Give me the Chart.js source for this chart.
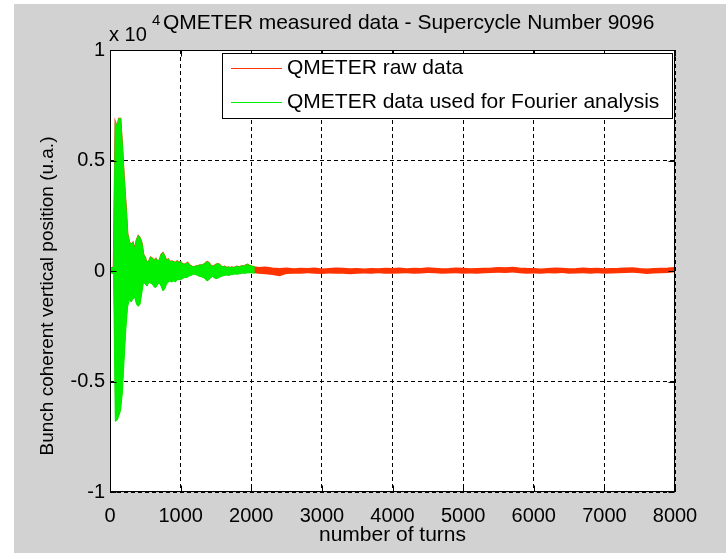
<!DOCTYPE html>
<html>
<head>
<meta charset="utf-8">
<title>QMETER measured data</title>
<script src="https://cdn.jsdelivr.net/npm/chart.js@4.4.0/dist/chart.umd.min.js"></script>
<style>
  html, body { margin: 0; padding: 0; background: #fff; }
  #wrap { width: 726px; height: 553px; }
</style>
</head>
<body>
<div id="wrap"><canvas id="qmeterChart" width="726" height="553"></canvas></div>
<script>
// Envelope of the bunch position signal (units of 1e4), upper and lower edge per sample.
// Part used for the Fourier analysis: turns 0..2050, one sample every 25 turns.
const fitStep = 25;
const fitHi = [
  0.015, 0.014, 0.018, 0.675, 0.65, 0.69, 0.69, 0.565, 0.42, 0.30,
  0.167, 0.13, 0.12, 0.13, 0.10, 0.14, 0.16, 0.15, 0.128, 0.075,
  0.06, 0.036, 0.045, 0.063, 0.057, 0.048, 0.057, 0.045, 0.05, 0.075,
  0.083, 0.068, 0.048, 0.054, 0.042, 0.045, 0.042, 0.038, 0.045, 0.039,
  0.042, 0.033, 0.03, 0.033, 0.038, 0.027, 0.023, 0.018, 0.02, 0.023,
  0.024, 0.027, 0.026, 0.03, 0.036, 0.042, 0.038, 0.027, 0.021, 0.024,
  0.03, 0.033, 0.03, 0.021, 0.018, 0.021, 0.015, 0.018, 0.015, 0.018,
  0.015, 0.018, 0.021, 0.018, 0.021, 0.024, 0.021, 0.027, 0.03, 0.024,
  0.023, 0.02, 0.018
];
const fitLo = [
  -0.008, -0.01, -0.012, -0.68, -0.675, -0.655, -0.63, -0.55, -0.40, -0.26,
  -0.16, -0.13, -0.14, -0.125, -0.12, -0.15, -0.16, -0.15, -0.10, -0.05,
  -0.06, -0.068, -0.05, -0.055, -0.06, -0.072, -0.075, -0.06, -0.055, -0.07,
  -0.09, -0.08, -0.06, -0.05, -0.045, -0.05, -0.045, -0.05, -0.04, -0.038,
  -0.04, -0.035, -0.03, -0.03, -0.028, -0.022, -0.02, -0.015, -0.015, -0.018,
  -0.022, -0.025, -0.027, -0.03, -0.036, -0.045, -0.04, -0.03, -0.025, -0.03,
  -0.035, -0.033, -0.028, -0.025, -0.022, -0.02, -0.018, -0.02, -0.018, -0.015,
  -0.015, -0.014, -0.015, -0.013, -0.012, -0.01, -0.01, -0.01, -0.008, -0.008,
  -0.008, -0.009, -0.01
];

// Rest of the raw acquisition: turns 2100..8000, one sample every 100 turns.
const tailStart = 2100;
const tailStep = 100;
const tailHi = [
  0.015, 0.017, 0.012, 0.01, 0.012, 0.009, 0.011, 0.01, 0.012, 0.008,
  0.01, 0.012, 0.011, 0.009, 0.01, 0.008, 0.01, 0.009, 0.011, 0.01,
  0.012, 0.009, 0.011, 0.01, 0.013, 0.011, 0.009, 0.01, 0.012, 0.011,
  0.009, 0.01, 0.011, 0.012, 0.015, 0.014, 0.016, 0.013, 0.011, 0.01,
  0.008, 0.01, 0.012, 0.011, 0.009, 0.01, 0.012, 0.01, 0.011, 0.009,
  0.01, 0.011, 0.013, 0.014, 0.01, 0.008, 0.01, 0.011, 0.012, 0.015
];
const tailLo = [
  -0.012, -0.015, -0.018, -0.024, -0.014, -0.012, -0.013, -0.01, -0.012, -0.014,
  -0.011, -0.012, -0.013, -0.015, -0.012, -0.011, -0.012, -0.01, -0.012, -0.013,
  -0.011, -0.01, -0.012, -0.011, -0.009, -0.01, -0.012, -0.011, -0.01, -0.013,
  -0.011, -0.012, -0.01, -0.009, -0.008, -0.009, -0.007, -0.01, -0.012, -0.011,
  -0.012, -0.01, -0.011, -0.009, -0.012, -0.011, -0.01, -0.012, -0.01, -0.013,
  -0.011, -0.01, -0.009, -0.008, -0.01, -0.014, -0.011, -0.01, -0.009, -0.006
];

const xTicks = [0, 1000, 2000, 3000, 4000, 5000, 6000, 7000, 8000];
const yTicks = [-1, -0.5, 0, 0.5, 1];

const seriesNames = ['QMETER raw data', 'QMETER data used for Fourier analysis'];
const yTitle = 'Bunch coherent vertical position (u.a.)';
const rawColor = '#ff3300';
const fitColor = '#00f000';
const FONT = "'Liberation Sans', Arial, Helvetica, sans-serif";

const fitTurns = fitHi.map((_, i) => i * fitStep);
const tailTurns = tailHi.map((_, i) => tailStart + i * tailStep);
const rawTurns = fitTurns.concat(tailTurns);
const rawHi = fitHi.concat(tailHi);
const rawLo = fitLo.concat(tailLo);

function points(turns, values) {
  return turns.map((t, i) => ({ x: t, y: values[i] }));
}

// backgrounds: white margin, grey figure, white axes
const figurePlugin = {
  id: 'figure',
  beforeDraw(chart) {
    const { ctx, chartArea: a } = chart;
    ctx.save();
    ctx.fillStyle = '#ffffff';
    ctx.fillRect(0, 0, chart.width, chart.height);
    ctx.fillStyle = '#d2d2d2';
    ctx.fillRect(14, 4, chart.width - 14, chart.height - 4);
    ctx.fillStyle = '#ffffff';
    ctx.fillRect(a.left, a.top, a.right - a.left, a.bottom - a.top);
    ctx.restore();
  },
  afterDraw(chart) {
    const { ctx, chartArea: a, scales } = chart;
    ctx.save();

    // box and inward ticks
    ctx.strokeStyle = '#000';
    ctx.lineWidth = 1;
    const L = Math.round(a.left) + 0.5, R = Math.round(a.right) - 0.5;
    const T = Math.round(a.top) + 0.5, B = Math.round(a.bottom) - 0.5;
    ctx.strokeRect(L, T, R - L, B - T);
    ctx.beginPath();
    xTicks.forEach(v => {
      const px = Math.round(scales.x.getPixelForValue(v)) + 0.5;
      ctx.moveTo(px, B); ctx.lineTo(px, B - 6);
      ctx.moveTo(px, T); ctx.lineTo(px, T + 6);
    });
    yTicks.forEach(v => {
      const py = Math.round(scales.y.getPixelForValue(v)) + 0.5;
      ctx.moveTo(L, py); ctx.lineTo(L + 6, py);
      ctx.moveTo(R, py); ctx.lineTo(R - 6, py);
    });
    ctx.stroke();

    // y label, rotated
    ctx.fillStyle = '#000';
    ctx.save();
    ctx.translate(48, 296);
    ctx.rotate(-Math.PI / 2);
    ctx.textAlign = 'center';
    ctx.textBaseline = 'middle';
    ctx.font = '19px ' + FONT;
    ctx.fillText(yTitle, 0, 0);
    ctx.restore();

    // title with the axis exponent
    ctx.textBaseline = 'alphabetic';
    ctx.textAlign = 'left';
    ctx.font = '20px ' + FONT;
    ctx.fillText('x 10', 109, 41);
    ctx.font = '15px ' + FONT;
    ctx.fillText('4', 152, 25);
    ctx.font = '21px ' + FONT;
    ctx.fillText('QMETER measured data - Supercycle Number 9096', 163, 29);

    // legend box
    const box = { x: 222.5, y: 53.5, w: 450, h: 65 };
    ctx.fillStyle = '#fff';
    ctx.fillRect(box.x, box.y, box.w, box.h);
    ctx.strokeRect(box.x, box.y, box.w, box.h);
    [rawColor, fitColor].forEach((c, i) => {
      const y = 68 + i * 34;
      ctx.strokeStyle = c;
      ctx.beginPath();
      ctx.moveTo(231, y + 0.5);
      ctx.lineTo(282, y + 0.5);
      ctx.stroke();
      ctx.fillStyle = '#000';
      ctx.textBaseline = 'middle';
      ctx.font = '21px ' + FONT;
      ctx.fillText(seriesNames[i], 287, y);
    });
    ctx.restore();
  }
};

new Chart(document.getElementById('qmeterChart'), {
  type: 'line',
  data: {
    datasets: [
      {
        label: seriesNames[1] + ' (upper)',
        data: points(fitTurns, fitHi),
        borderColor: fitColor,
        borderWidth: 1,
        fill: false,
        order: 0
      },
      {
        label: seriesNames[1],
        data: points(fitTurns, fitLo),
        borderColor: fitColor,
        backgroundColor: fitColor,
        borderWidth: 1,
        fill: '-1',
        order: 0
      },
      {
        label: seriesNames[0] + ' (upper)',
        data: points(rawTurns, rawHi),
        borderColor: rawColor,
        borderWidth: 1.5,
        fill: false,
        order: 1
      },
      {
        label: seriesNames[0],
        data: points(rawTurns, rawLo),
        borderColor: rawColor,
        backgroundColor: rawColor,
        borderWidth: 0,
        fill: '-1',
        order: 1
      }
    ]
  },
  options: {
    responsive: false,
    animation: false,
    layout: { padding: { top: 50, right: 51, bottom: 0, left: 0 } },
    elements: { point: { radius: 0 }, line: { tension: 0 } },
    plugins: {
      legend: { display: false },
      tooltip: { enabled: false },
      filler: { propagate: false }
    },
    scales: {
      x: {
        type: 'linear',
        min: 0,
        max: 8000,
        afterFit(scale) { scale.height = 61; },
        afterBuildTicks(scale) { scale.ticks = xTicks.map(v => ({ value: v })); },
        grid: { color: '#000', lineWidth: 1, drawTicks: false },
        border: { display: false, dash: [4, 3] },
        ticks: {
          padding: 12,
          color: '#000',
          font: { family: FONT, size: 20 },
          callback: v => String(v)
        },
        title: {
          display: true,
          text: 'number of turns',
          color: '#000',
          font: { family: FONT, size: 21 },
          padding: { top: 0, bottom: 5 }
        }
      },
      y: {
        type: 'linear',
        min: -1,
        max: 1,
        afterFit(scale) { scale.width = 110; },
        afterBuildTicks(scale) { scale.ticks = yTicks.map(v => ({ value: v })); },
        grid: { color: '#000', lineWidth: 1, drawTicks: false },
        border: { display: false, dash: [4, 3] },
        ticks: {
          padding: 5,
          color: '#000',
          font: { family: FONT, size: 20 },
          callback: v => String(v)
        }
      }
    }
  },
  plugins: [figurePlugin]
});
</script>
</body>
</html>
